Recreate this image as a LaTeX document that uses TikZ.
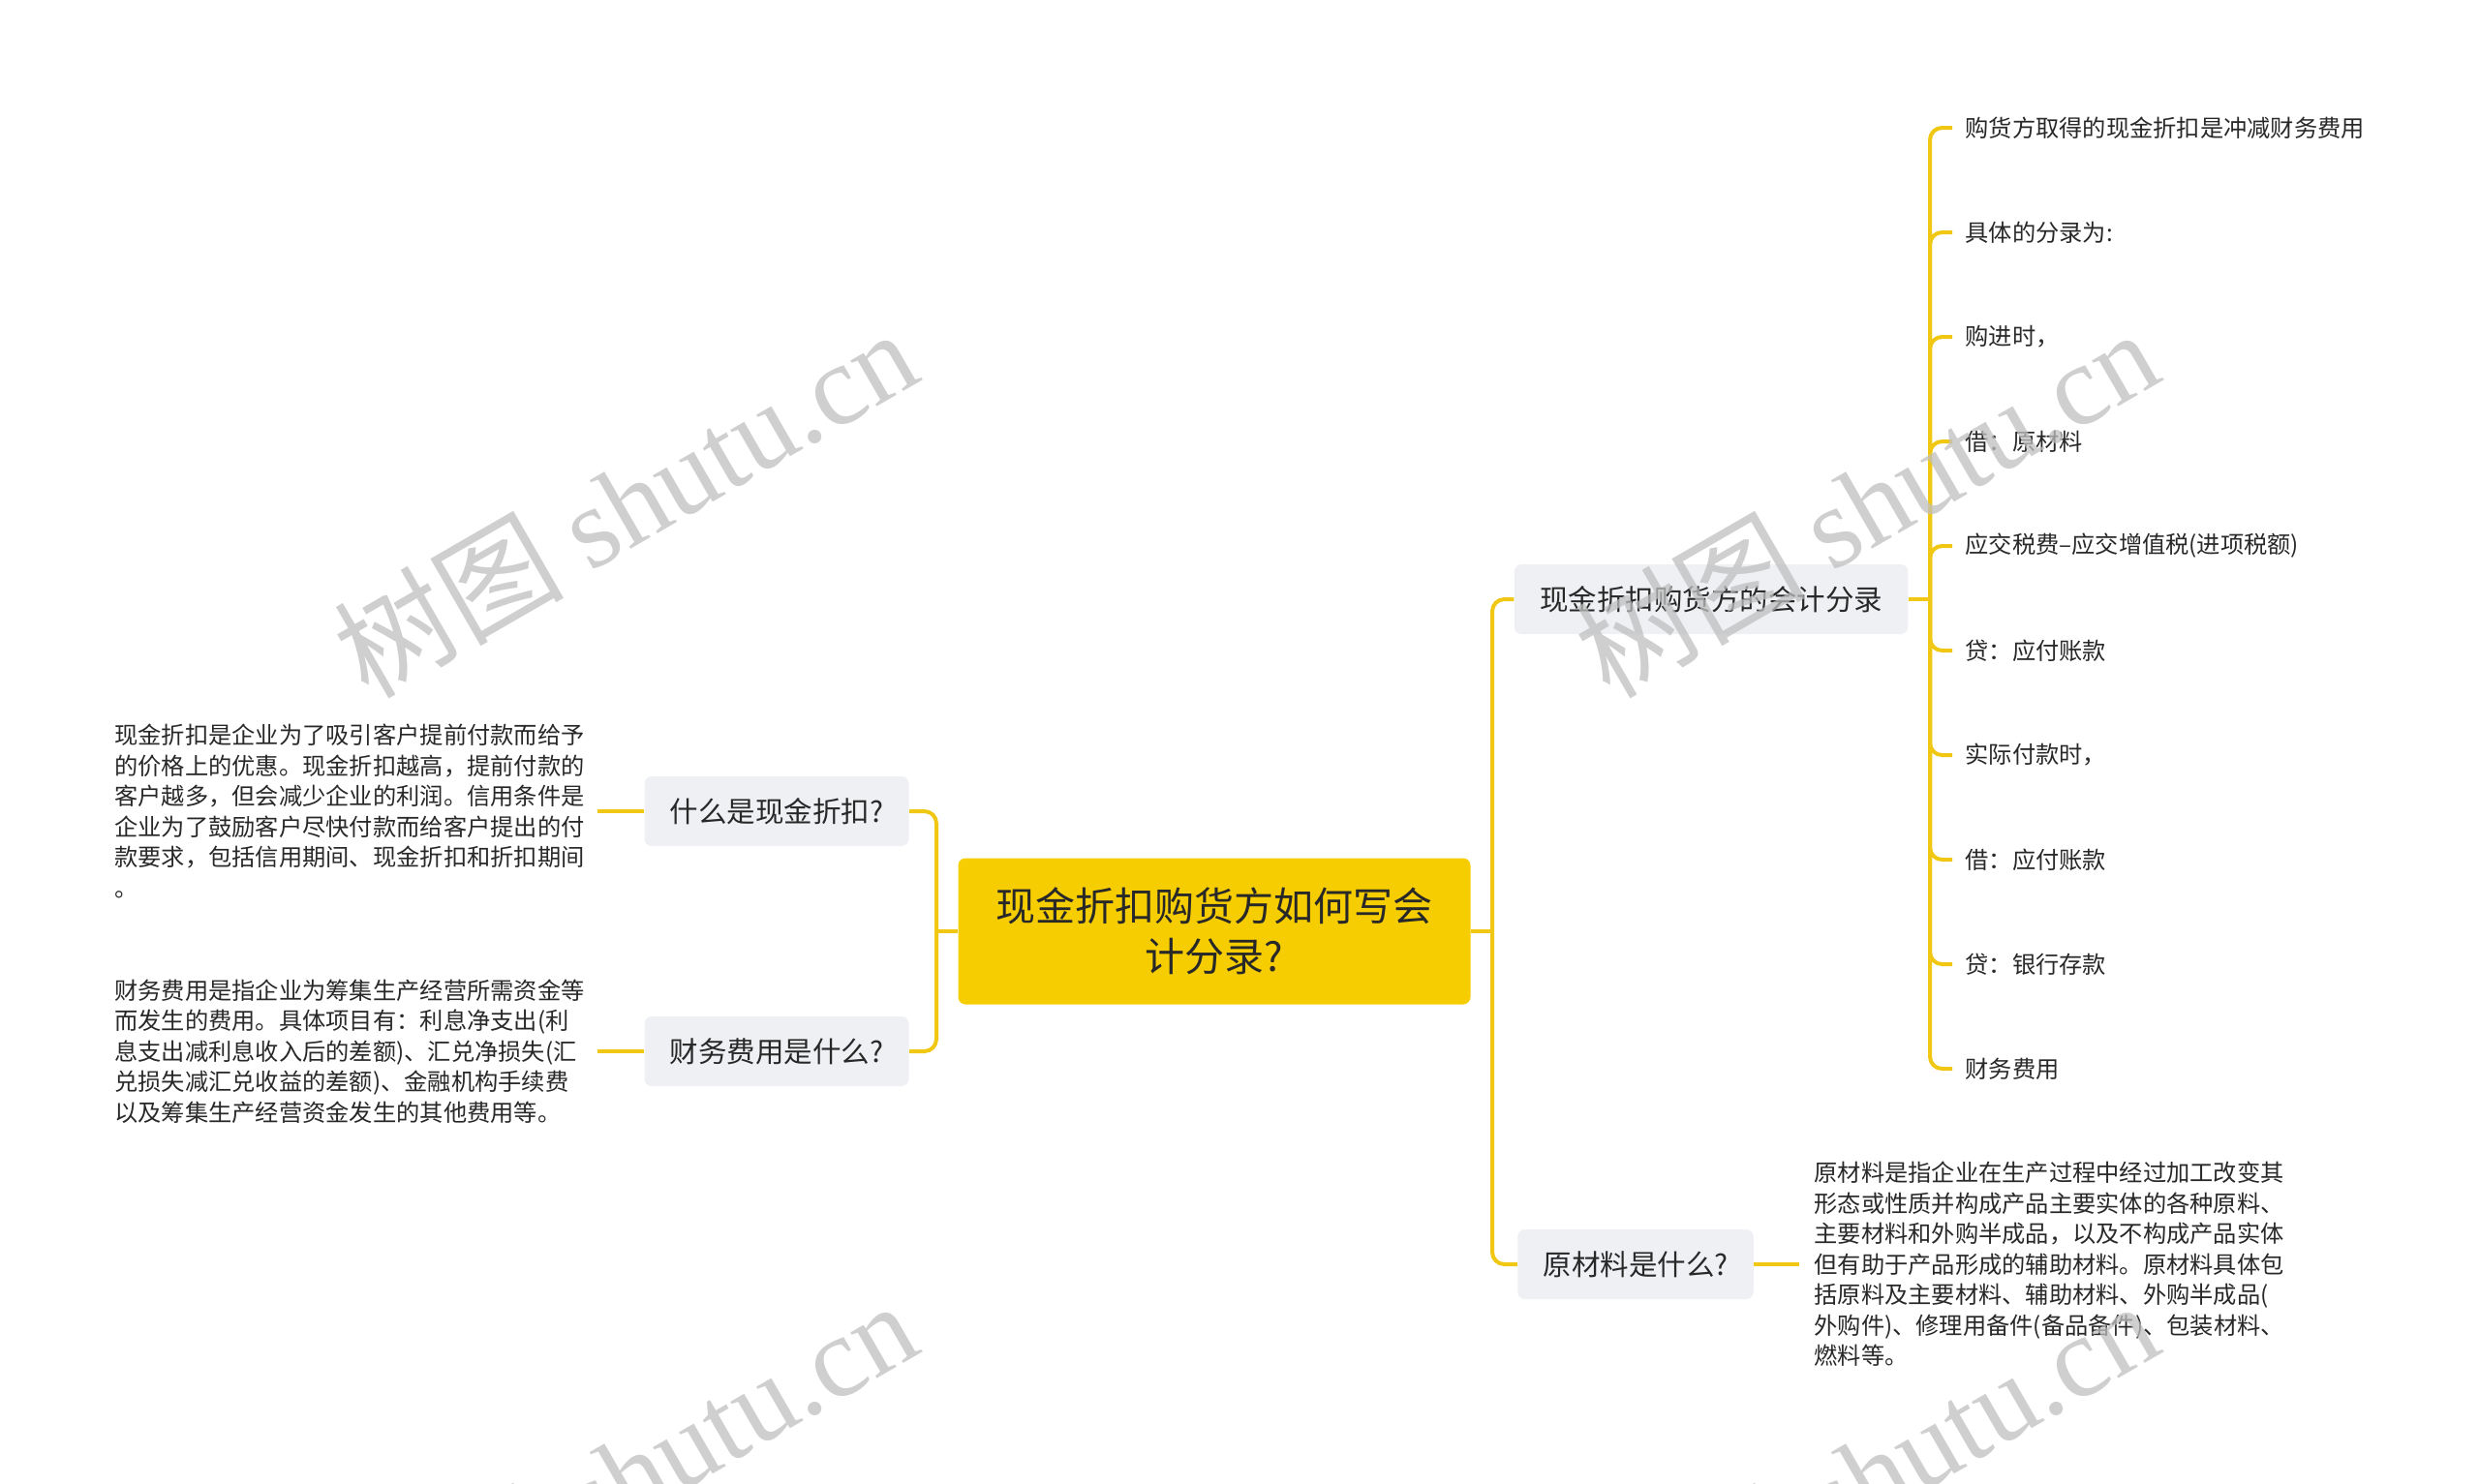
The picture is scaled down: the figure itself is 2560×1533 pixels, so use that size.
\documentclass[tikz,border=0pt]{standalone}
\usepackage{fontspec}
\setmainfont{Noto Sans CJK SC}
\newfontfamily\wmfont{Liberation Serif}
\definecolor{mapyellow}{RGB}{246,205,0}
\definecolor{lineyellow}{RGB}{240,200,20}
\definecolor{boxgrey}{RGB}{238,240,243}
\definecolor{inkgrey}{RGB}{40,40,40}
\begin{document}
\begin{tikzpicture}[x=0.4pt,y=-0.4pt]
				\tikzset{
					branch/.style={line width=1.6pt,color=lineyellow},
					bend branch/.style={line width=1.6pt,color=lineyellow,rounded corners=5pt},
					topic/.style={fill=mapyellow,rounded corners=3pt,minimum width=211.6pt,minimum height=60.4pt,align=center,text=inkgrey,font=\fontsize{16.4}{21}\selectfont},
					subtopic/.style={fill=boxgrey,rounded corners=3pt,minimum height=28.8pt,inner xsep=10.5pt,text=inkgrey,font=\fontsize{11.8}{14}\selectfont},
					leaf/.style={align=left,inner xsep=5.2pt,text=inkgrey,font=\fontsize{9.7}{12.6}\selectfont},
					watermark/.style={rotate=30,text=black!25,text opacity=0.75,font=\fontsize{47.5}{48}\selectfont}
				}
				\useasboundingbox (0,0) rectangle (2560,1533);
				\path
				(1254,962) coordinate (Mc)
				(967,962) coordinate (Lj)
				(1541,962) coordinate (Rj)
				(1993,619) coordinate (Cj)
				(802,838) coordinate (Q1)
				(802,1086) coordinate (Q2)
				(1767,619) coordinate (Q3)
				(1689,1306) coordinate (Q4);
				\node[topic] (main) at (Mc) {现金折扣购货方如何写会\\计分录?};
				\node[subtopic] (what) at (Q1) {什么是现金折扣?};
				\node[subtopic] (fee) at (Q2) {财务费用是什么?};
				\node[subtopic] (entry) at (Q3) {现金折扣购货方的会计分录};
				\node[subtopic] (raw) at (Q4) {原材料是什么?};
				\node[leaf,anchor=east] (whattext) at (617,838) {现金折扣是企业为了吸引客户提前付款而给予\\的价格上的优惠。现金折扣越高，提前付款的\\客户越多，但会减少企业的利润。信用条件是\\企业为了鼓励客户尽快付款而给客户提出的付\\款要求，包括信用期间、现金折扣和折扣期间\\。};
				\node[leaf,anchor=east] (feetext) at (617,1086) {财务费用是指企业为筹集生产经营所需资金等\\而发生的费用。具体项目有：利息净支出(利\\息支出减利息收入后的差额)、汇兑净损失(汇\\兑损失减汇兑收益的差额)、金融机构手续费\\以及筹集生产经营资金发生的其他费用等。};
				\node[leaf,anchor=west,inner xsep=6pt] (rawtext) at (1858,1306) {原材料是指企业在生产过程中经过加工改变其\\形态或性质并构成产品主要实体的各种原料、\\主要材料和外购半成品，以及不构成产品实体\\但有助于产品形成的辅助材料。原材料具体包\\括原料及主要材料、辅助材料、外购半成品(\\外购件)、修理用备件(备品备件)、包装材料、\\燃料等。};
				\draw[branch] (main.west) -- (Lj);
				\draw[bend branch] (Lj) |- (what.east);
				\draw[bend branch] (Lj) |- (fee.east);
				\draw[branch] (main.east) -- (Rj);
				\draw[bend branch] (Rj) |- (entry.west);
				\draw[bend branch] (Rj) |- (raw.west);
				\draw[branch] (what.west) -- (whattext.east);
				\draw[branch] (fee.west) -- (feetext.east);
				\draw[branch] (raw.east) -- (rawtext.west);
				\draw[branch] (entry.east) -- (Cj);
				\foreach \y/\name/\text in {
					132/e1/{购货方取得的现金折扣是冲减财务费用},240/e2/{具体的分录为:},
					348/e3/{购进时，},456/e4/{借：原材料},564/e5/{应交税费–应交增值税(进项税额)},
					672/e6/{贷：应付账款},780/e7/{实际付款时，},888/e8/{借：应付账款},
					996/e9/{贷：银行存款},1104/e10/{财务费用}
				}{
					\node[leaf,anchor=west] (\name) at (2016,\y) {\text};
					\draw[bend branch] (Cj) |- (\name.west);
				}
				\foreach \x/\y/\name in {645/519/wm1,1927/519/wm2,645/1523/wm3,1927/1523/wm4}{
					\node[watermark] (\name) at (\x,\y) {树图 {\wmfont shutu.cn}};
				}
\end{tikzpicture}
\end{document}
